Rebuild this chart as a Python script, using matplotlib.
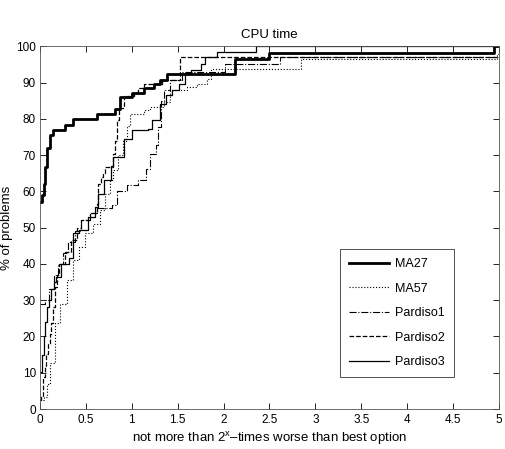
import numpy as np
import matplotlib
matplotlib.use('Agg')
import matplotlib.pyplot as plt

plt.rcParams['font.family'] = ['Liberation Sans', 'DejaVu Sans']
plt.rcParams['mathtext.fontset'] = 'custom'
plt.rcParams['mathtext.rm'] = 'Liberation Sans'
plt.rcParams['mathtext.it'] = 'Liberation Sans'

# performance profile step points (x = log2 ratio, y = % of problems)
ma27_x = [0, 0.02, 0.04, 0.06, 0.08, 0.11, 0.14, 0.27, 0.36, 0.62, 0.82, 0.87,
          1.0, 1.13, 1.24, 1.31, 1.38, 2.13, 2.5, 4.95, 5]
ma27_y = [57, 59, 62, 66.7, 72, 75.5, 76.9, 78.4, 79.9, 81.3, 82.8, 86,
          87.2, 88.6, 89.7, 90.6, 92.3, 96.6, 98.2, 100, 100]

ma57_x = [0, 0.04, 0.08, 0.11, 0.16, 0.22, 0.29, 0.36, 0.42, 0.49, 0.58, 0.65,
          0.71, 0.76, 0.8, 0.85, 0.9, 0.95, 0.98, 1.13, 1.2, 1.35, 1.42, 1.6,
          1.71, 1.82, 1.86, 2.84, 4.98, 5]
ma57_y = [2.5, 3.4, 7, 12.6, 23.6, 29, 35.5, 41, 44.7, 48.4, 51, 55,
          59.4, 63, 66, 70, 74, 78, 81.4, 82.4, 83.3, 84.7, 87.9, 88.8,
          89.7, 91, 93.8, 96.5, 98, 98]

pard1_x = [0, 0.05, 0.1, 0.15, 0.2, 0.25, 0.3, 0.38, 0.45, 0.55, 0.62,
           0.78, 0.84, 0.95, 1.07, 1.15, 1.2, 1.26, 1.29, 1.32, 1.35, 1.42,
           1.55, 2.02, 2.62, 5]
pard1_y = [29, 30, 33, 37, 40, 43, 46, 49, 52, 54, 55.3,
           56.2, 60, 61.7, 63, 66.3, 70.4, 72.7, 77.8, 85, 88, 90.8,
           93, 95.2, 97, 97]

pard2_x = [0, 0.01, 0.03, 0.05, 0.07, 0.09, 0.11, 0.12, 0.14, 0.16, 0.19,
           0.21, 0.27, 0.34, 0.4, 0.45, 0.55, 0.62, 0.63, 0.66, 0.69, 0.71,
           0.8, 0.82, 0.84, 0.86, 0.91, 1.02, 1.07, 1.13, 1.33, 1.53, 5]
pard2_y = [2.5, 3.4, 8.9, 11.6, 15.3, 18, 20.8, 23.6, 28, 33.7, 37,
           40, 43.3, 46.5, 50, 52, 54, 56.6, 62, 64, 65, 66.7,
           70.4, 74, 79.6, 83, 86.2, 87.2, 88.6, 89.5, 90.6, 97, 97]

pard3_x = [0, 0.02, 0.04, 0.06, 0.08, 0.1, 0.12, 0.15, 0.18, 0.23, 0.32, 0.36,
           0.43, 0.52, 0.6, 0.63, 0.7, 0.77, 0.8, 0.91, 1.0, 1.18, 1.22, 1.31,
           1.37, 1.44, 1.51, 1.58, 1.64, 1.75, 1.8, 1.93, 2.35, 5]
pard3_y = [10.3, 15, 20, 24, 28, 30, 33, 35, 36.4, 40, 41.5, 48.4,
           49.3, 53, 55.7, 59.4, 63, 67, 69.5, 74.5, 76.9, 77.3, 79.6, 84.2,
           86.5, 87.9, 89.7, 92.5, 93.4, 95.2, 97, 98.3, 100, 100]

fig = plt.figure(figsize=(5.06, 4.49), dpi=100)
ax = fig.add_axes([0.079, 0.089, 0.907, 0.808])

ax.step(ma27_x, ma27_y, where='post', color='k', lw=2.0, label='MA27')
ax.step(ma57_x, ma57_y, where='post', color='k', lw=0.8, ls=':', label='MA57')
ax.step(pard1_x, pard1_y, where='post', color='k', lw=0.8, ls='-.', label='Pardiso1')
ax.step(pard2_x, pard2_y, where='post', color='k', lw=0.9, ls='--', label='Pardiso2')
ax.step(pard3_x, pard3_y, where='post', color='k', lw=0.9, label='Pardiso3')

ax.set_xlim(0, 5)
ax.set_ylim(0, 100)
ax.set_xticks(np.arange(0, 5.01, 0.5))
ax.set_xticklabels(['0', '0.5', '1', '1.5', '2', '2.5', '3', '3.5', '4', '4.5', '5'])
ax.set_yticks(np.arange(0, 101, 10))
ax.tick_params(direction='in', top=True, right=True, labelsize=8.5, length=4, width=0.6)
ax.tick_params(axis='y', pad=3)
for s in ax.spines.values():
    s.set_linewidth(0.6)
    s.set_color('#555555')

ax.set_title('CPU time', fontsize=9.5, pad=6)
ax.set_xlabel('not more than 2$^\\mathregular{x}$\u2013times worse than best option', fontsize=9.5, labelpad=3)
ax.set_ylabel('% of problems', fontsize=9.5)
ax.yaxis.set_label_coords(-0.058, 0.5)

leg = ax.legend(loc='upper right', bbox_to_anchor=(0.915, 0.457), fontsize=9,
                frameon=True, fancybox=False, edgecolor='k', handlelength=3.2,
                labelspacing=1.0, borderpad=0.7, handletextpad=0.5)
leg.get_frame().set_linewidth(0.6)

plt.savefig('out.png', dpi=100)
